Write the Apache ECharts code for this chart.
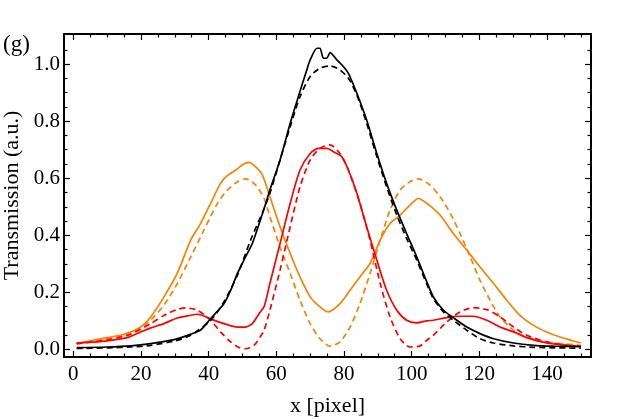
<!DOCTYPE html>
<html><head><meta charset="utf-8">
<script src="https://cdn.jsdelivr.net/npm/echarts@6/dist/echarts.min.js"></script>
<style>html,body{margin:0;padding:0;background:#fff}#c{width:623px;height:420px}</style>
</head><body><div id="c"></div>
<script>
// ---- tick labels ----
const xTicks = [0, 20, 40, 60, 80, 100, 120, 140];
const xMinor = [5,10,15,25,30,35,45,50,55,65,70,75,85,90,95,105,110,115,125,130,135,145,150];
const yTicks = [0, 0.2, 0.4, 0.6, 0.8, 1.0];
const yMinor = [0.05,0.1,0.15,0.25,0.3,0.35,0.45,0.5,0.55,0.65,0.7,0.75,0.85,0.9,0.95,1.05];

// ---- series values [x, y] ----
const blackSolid = [[1,0.006],[10,0.008],[17,0.012],[22.9,0.02],[29.8,0.034],[34.7,0.053],[37.6,0.067],[40.6,0.108],[44.5,0.16],[46.5,0.207],[48.5,0.266],[50.9,0.324],[52.9,0.371],[56.4,0.494],[58.1,0.559],[61.1,0.664],[64.1,0.793],[66.5,0.886],[69,0.98],[70,1.015],[72,1.056],[72.9,1.056],[73.9,1.021],[74.9,1.021],[75.9,1.041],[77.9,1.015],[79.8,0.992],[81.3,0.968],[83.8,0.898],[86.7,0.804],[89.7,0.687],[92.6,0.582],[95.6,0.488],[98.5,0.406],[101.5,0.324],[104.5,0.236],[106.4,0.184],[109.4,0.137],[112.3,0.111],[116.3,0.078],[120.2,0.055],[124.2,0.037],[130.1,0.022],[136,0.014],[141.9,0.011],[150,0.009]];
const blackDashed = [[1,0.003],[10,0.005],[17,0.008],[22.9,0.014],[29.8,0.029],[34.7,0.049],[40.6,0.102],[44.5,0.166],[48.5,0.26],[52.4,0.383],[56.4,0.494],[58.1,0.547],[61.1,0.664],[64.1,0.781],[67,0.886],[70,0.957],[72.9,0.986],[75.9,0.994],[78.8,0.98],[81.3,0.951],[83.8,0.892],[86.7,0.793],[89.7,0.676],[92.6,0.57],[95.6,0.471],[98.5,0.389],[101.5,0.313],[104.5,0.228],[106.4,0.178],[109.4,0.131],[112.3,0.102],[116.3,0.067],[120.2,0.037],[124.2,0.022],[130.1,0.012],[136,0.007],[150,0.004]];
const orangeSolid = [[1,0.02],[7.1,0.035],[15,0.053],[19.9,0.078],[22.9,0.114],[26.8,0.184],[30.7,0.266],[34.7,0.383],[37.6,0.441],[40.6,0.512],[43.5,0.582],[45.5,0.609],[48,0.629],[50.4,0.65],[51.9,0.656],[53.9,0.64],[55.9,0.611],[58.1,0.535],[61.1,0.43],[64.1,0.336],[67,0.254],[70,0.184],[72.9,0.149],[75.4,0.131],[78.8,0.16],[81.8,0.207],[84.7,0.254],[87.7,0.301],[90.7,0.383],[93.6,0.441],[96.6,0.471],[99.5,0.506],[102,0.529],[104.5,0.512],[108.4,0.471],[112.3,0.406],[116.3,0.348],[120.2,0.289],[124.2,0.231],[128.1,0.172],[132,0.119],[136,0.084],[139.9,0.061],[143.9,0.043],[147.8,0.029],[150,0.022]];
const orangeDashed = [[1,0.018],[7,0.03],[15,0.05],[19.9,0.073],[23.8,0.114],[26.8,0.155],[30.7,0.23],[34.7,0.324],[38.6,0.418],[42.6,0.512],[45.5,0.558],[48.5,0.588],[50.9,0.598],[53.9,0.576],[56.4,0.529],[58.1,0.465],[61.1,0.359],[64.1,0.266],[67,0.172],[70,0.09],[72.9,0.037],[75.9,0.011],[78.8,0.026],[81.8,0.078],[84.7,0.16],[87.7,0.266],[90.7,0.383],[93.6,0.488],[96.6,0.559],[99.5,0.588],[102,0.598],[105.4,0.576],[108.4,0.535],[111.4,0.477],[114.3,0.406],[117.3,0.324],[120.2,0.242],[123.2,0.172],[126.1,0.114],[130.1,0.067],[134,0.043],[139.9,0.026],[145.8,0.018],[150,0.014]];
const redSolid = [[1,0.022],[7.1,0.026],[16,0.041],[19.9,0.061],[22.9,0.075],[26.8,0.09],[30.7,0.11],[33.7,0.117],[36.7,0.123],[38.6,0.117],[41.1,0.104],[44.5,0.09],[48.5,0.078],[50.9,0.078],[52.9,0.09],[54.9,0.125],[56.4,0.15],[58.1,0.231],[61.1,0.371],[64.1,0.512],[67,0.629],[70,0.687],[72.4,0.705],[74.9,0.705],[76.9,0.693],[79.3,0.676],[81.3,0.629],[83.8,0.547],[86.7,0.43],[89.7,0.313],[92.6,0.207],[95.6,0.137],[98.5,0.102],[101.5,0.093],[104.5,0.1],[106.4,0.102],[110.4,0.111],[114.3,0.116],[118.2,0.116],[122.2,0.102],[126.1,0.078],[130.1,0.061],[134,0.041],[139.9,0.022],[145.8,0.014],[150,0.011]];
const redDashed = [[1,0.02],[8,0.03],[16,0.049],[22.9,0.09],[26.8,0.119],[30.7,0.14],[33.2,0.145],[36.7,0.137],[40.6,0.102],[43.5,0.061],[46.5,0.026],[49,0.006],[50.9,0.002],[53.4,0.014],[55.2,0.043],[56.4,0.067],[58.1,0.137],[61.1,0.278],[64.1,0.43],[67,0.57],[70,0.664],[72.9,0.705],[75.9,0.717],[78.8,0.687],[81.3,0.629],[84.7,0.512],[87.7,0.383],[90.7,0.231],[93.6,0.114],[96.6,0.037],[99.5,0.008],[102.5,0.012],[105,0.037],[106.4,0.049],[110.4,0.096],[114.3,0.131],[118.2,0.146],[122.2,0.139],[126.1,0.114],[130.1,0.078],[134,0.049],[139.9,0.026],[145.8,0.014],[150,0.011]];

const FONT = 'Liberation Serif';
const ORANGE = '#FF8000', RED = '#FF0000', BLACK = '#000000';
const X_MIN = -2.75, X_MAX = 153, Y_MIN = -0.027, Y_MAX = 1.106;

function xAx(pos, vals, len, main) {
  return {
    type: 'value', gridIndex: 0, position: pos, min: X_MIN, max: X_MAX,
    name: (main && pos === 'bottom') ? 'x [pixel]' : '',
    nameLocation: 'middle', nameGap: 38,
    nameTextStyle: {fontFamily: FONT, fontSize: 22, color: '#000'},
    axisLine: {show: main, onZero: false, lineStyle: {color: '#000', width: 2}},
    axisTick: {show: true, inside: true, length: len, customValues: vals, lineStyle: {color: '#000', width: 1.2}},
    axisLabel: {show: main && pos === 'bottom', customValues: vals, margin: 7,
      fontFamily: FONT, fontSize: 21, color: '#000'},
    splitLine: {show: false}
  };
}
function yAx(pos, vals, len, main) {
  return {
    type: 'value', gridIndex: 0, position: pos, min: Y_MIN, max: Y_MAX,
    name: (main && pos === 'left') ? 'Transmission (a.u.)' : '',
    nameLocation: 'middle', nameGap: 38, nameRotate: 90,
    nameTextStyle: {fontFamily: FONT, fontSize: 22, color: '#000'},
    axisLine: {show: main, onZero: false, lineStyle: {color: '#000', width: 2}},
    axisTick: {show: true, inside: true, length: len, customValues: vals, lineStyle: {color: '#000', width: 1.2}},
    axisLabel: {show: main && pos === 'left', customValues: vals, margin: 4,
      formatter: v => v.toFixed(1), fontFamily: FONT, fontSize: 21, color: '#000'},
    splitLine: {show: false}
  };
}

function line(data, color, dashed, z) {
  return {
    type: 'line', xAxisIndex: 0, yAxisIndex: 0, data: data, showSymbol: false, symbol: 'none',
    smooth: 0.25, z: z, animation: false,
    lineStyle: {color: color, width: 1.7, type: dashed ? [6, 4] : 'solid'}
  };
}

const chart = echarts.init(document.getElementById('c'), null, {renderer: 'canvas'});
chart.setOption({
  animation: false,
  backgroundColor: '#fff',
  grid: {left: 64, top: 34, right: 32, bottom: 63, containLabel: false, outerBoundsMode: 'none'},
  xAxis: [xAx('bottom', xTicks, 6, true), xAx('bottom', xMinor, 3.5, false),
          xAx('top', xTicks, 6, true), xAx('top', xMinor, 3.5, false)],
  yAxis: [yAx('left', yTicks, 6, true), yAx('left', yMinor, 3.5, false),
          yAx('right', yTicks, 6, true), yAx('right', yMinor, 3.5, false)],
  graphic: [{type: 'text', left: 3, top: 33,
    style: {text: '(g)', fontFamily: FONT, fontSize: 23, fill: '#000'}}],
  series: [
    line(orangeDashed, ORANGE, true, 2),
    line(orangeSolid, ORANGE, false, 3),
    line(redDashed, RED, true, 4),
    line(redSolid, RED, false, 5),
    line(blackDashed, BLACK, true, 6),
    line(blackSolid, BLACK, false, 7)
  ]
});
</script></body></html>
